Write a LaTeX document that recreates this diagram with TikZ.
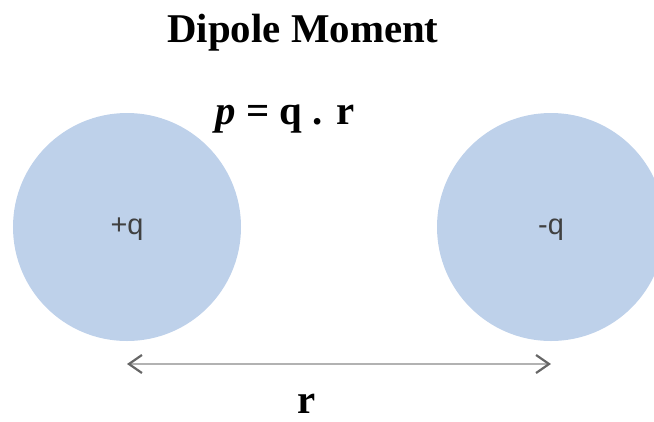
\documentclass[tikz,border=0pt]{standalone}
\usepackage{fontspec}
\setmainfont{Liberation Serif}
\newfontfamily\chargefont{Liberation Sans}
\usetikzlibrary{arrows.meta}
\usetikzlibrary{positioning}

\begin{document}
\begin{tikzpicture}[x=1bp,y=-1bp]
  \definecolor{chargecol}{RGB}{190,209,234}
  \colorlet{arrowcol}{black!30}
  \colorlet{tipcol}{black!60}
  \tikzstyle{charge}=[circle, fill=chargecol, minimum size=228bp, inner sep=0pt, text=black!75, font=\chargefont\fontsize{29}{29}\selectfont, text depth=0pt, text height=14bp]
  \tikzstyle{heading}=[font=\bfseries\fontsize{41}{41}\selectfont, anchor=base, inner sep=0pt]
  \tikzstyle{separation}=[{Straight Barb[length=13bp,width=18bp,color=tipcol,line width=2.2bp]}-{Straight Barb[length=13bp,width=18bp,color=tipcol,line width=2.2bp]}, arrowcol, line width=2.2bp]

  % Frame
  \useasboundingbox (0,0) rectangle (654,421);
  \clip (0,0) rectangle (654,421);

  % Title and formula
  \node[heading] (title) at (303,42) {Dipole Moment};
  \node[heading] (formula) at (285,124) {{\itshape p} = q . r};

  % Charges
  \node[charge] (plus) at (127,227) {+q};
  \node[charge] (minus) at (551,227) {-q};

  % Separation
  \coordinate (left end) at (plus.center |- 0,364);
  \coordinate (right end) at (minus.center |- 0,364);
  \draw[separation] (left end) -- (right end);
  \node[heading] (dist) at (307,413) {r};

\end{tikzpicture}
\end{document}
